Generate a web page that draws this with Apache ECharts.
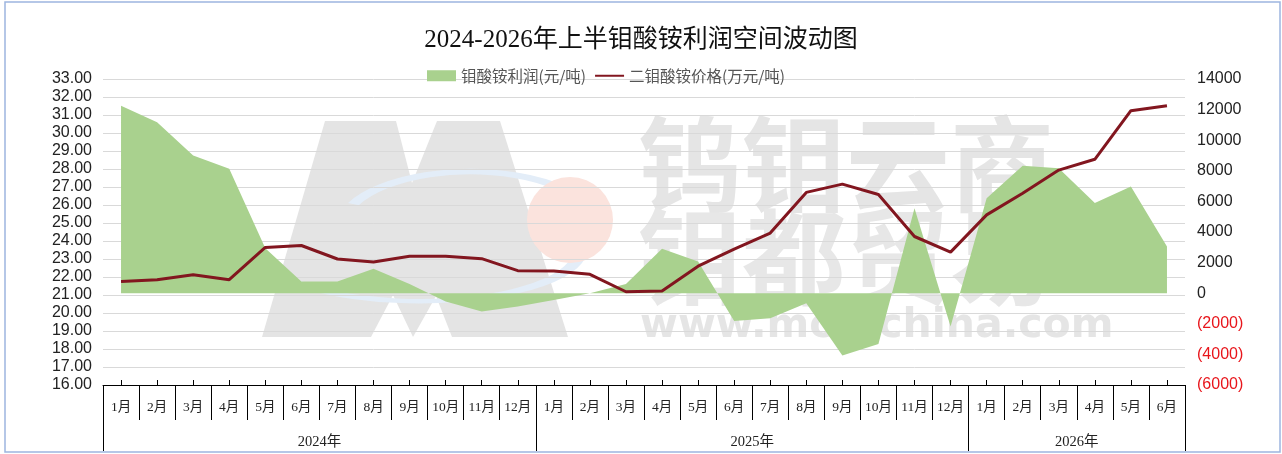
<!DOCTYPE html>
<html>
<head>
<meta charset="utf-8">
<script src="https://cdn.jsdelivr.net/npm/echarts@6/dist/echarts.min.js"></script>
<style>
  html, body { margin: 0; padding: 0; background: #fff; }
  #chart { width: 1282px; height: 454px; }
</style>
</head>
<body>
<div id="chart"></div>
<script>
const title = "2024-2026年上半钼酸铵利润空间波动图";

const years = ["2024年", "2025年", "2026年"];
const monthsPerYear = [12, 12, 6];

const months = [
  "1月", "2月", "3月", "4月", "5月", "6月", "7月", "8月", "9月", "10月", "11月", "12月",
  "1月", "2月", "3月", "4月", "5月", "6月", "7月", "8月", "9月", "10月", "11月", "12月",
  "1月", "2月", "3月", "4月", "5月", "6月",
];

// 钼酸铵利润 (元/吨), right axis
const profit = [
  12250, 11180, 9000, 8130, 2940, 760, 760, 1590, 600, -550, -1200, -870,
  -440, 0, 600, 2900, 2070, -1810, -1640, -660, -4080, -3320, 5560, -2180,
  6210, 8330, 8170, 5890, 6970, 3050,
];

// 二钼酸铵价格 (万元/吨), left axis
const price = [
  21.75, 21.85, 22.13, 21.85, 23.64, 23.75, 23.0, 22.83, 23.15, 23.15, 23.02, 22.35,
  22.33, 22.15, 21.18, 21.22, 22.6, 23.55, 24.44, 26.7, 27.16, 26.58, 24.25, 23.38,
  25.45, 26.65, 27.94, 28.54, 31.24, 31.52,
];

// year group boundaries and label positions, in month units
const yearBounds = [0];
const yearMids = [];
monthsPerYear.forEach((n) => {
  const start = yearBounds[yearBounds.length - 1];
  yearMids.push(start + n / 2);
  yearBounds.push(start + n);
});

const serif = "'Liberation Serif', 'Noto Sans CJK SC', serif";
const sans = "'Liberation Sans', Arial, sans-serif";
const cjk = "'Noto Sans CJK SC', sans-serif";

const chart = echarts.init(document.getElementById("chart"));

const watermark = [
  {
    type: "polygon",
    z: 0,
    silent: true,
    shape: {
      points: [[262, 337], [325, 121], [396, 121], [412, 183], [437, 121], [500, 121],
        [568, 337], [452, 337], [436, 296], [413, 337], [393, 295], [371, 337]],
    },
    style: { fill: "#e4e4e4" },
  },
  {
    type: "arc",
    z: 0,
    silent: true,
    shape: { cx: 420, cy: 250, r: 160, startAngle: 0.15, endAngle: 2.7 },
    scaleY: 0.32,
    originX: 420, originY: 250,
    style: { fill: null, stroke: "#e3edf8", lineWidth: 14 },
  },
  {
    type: "arc",
    z: 0,
    silent: true,
    shape: { cx: 470, cy: 230, r: 130, startAngle: 3.6, endAngle: 6.1 },
    scaleY: 0.45,
    originX: 470, originY: 230,
    style: { fill: null, stroke: "#e3edf8", lineWidth: 12 },
  },
  {
    type: "circle",
    z: 0,
    silent: true,
    shape: { cx: 570, cy: 220, r: 43 },
    style: { fill: "#fbe3dd" },
  },
  {
    type: "text",
    z: 0,
    silent: true,
    left: 638, top: 112,
    style: { text: "钨钼云商", font: "bold 104px 'Noto Sans CJK SC'", fill: "#e5e5e5" },
  },
  {
    type: "text",
    z: 0,
    silent: true,
    left: 638, top: 205,
    style: { text: "钼都贸易", font: "bold 104px 'Noto Sans CJK SC'", fill: "#e7e7e7" },
  },
  {
    type: "text",
    z: 0,
    silent: true,
    left: 640, top: 306,
    style: { text: "www.molychina.com", font: "bold 41px 'DejaVu Sans'", fill: "#e5e5e5" },
  },
  {
    type: "rect",
    z: 0,
    silent: true,
    shape: { x: 5, y: 2, width: 1275, height: 450 },
    style: { fill: null, stroke: "#9db5e0", lineWidth: 1.5 },
  },
];

chart.setOption({
  animation: false,
  backgroundColor: "#fff",
  title: {
    text: title,
    left: "center",
    top: 23,
    textStyle: { fontFamily: serif, fontSize: 25, fontWeight: "normal", color: "#111" },
  },
  legend: {
    left: 422,
    top: 63,
    itemWidth: 29,
    itemHeight: 11,
    itemGap: 8,
    textStyle: { fontFamily: cjk, fontSize: 15.5, color: "#555" },
    data: [
      { name: "钼酸铵利润(元/吨)", icon: "rect" },
      { name: "二钼酸铵价格(万元/吨)", itemStyle: { opacity: 0 } },
    ],
  },
  graphic: watermark,
  grid: { left: 103, right: 97, top: 79, bottom: 69 },
  xAxis: [
    {
      type: "category",
      position: "bottom",
      data: months,
      boundaryGap: true,
      axisLine: { onZero: false, lineStyle: { color: "#000", width: 1 } },
      axisTick: { show: true, interval: 0, length: 35, lineStyle: { color: "#000" } },
      axisLabel: { interval: 0, margin: 16, fontFamily: serif, fontSize: 13.5, color: "#222" },
      splitLine: { show: false },
    },
    {
      type: "category",
      position: "bottom",
      data: months,
      boundaryGap: true,
      axisLine: { show: false, onZero: false },
      axisTick: { show: true, interval: 0, alignWithLabel: true, inside: true, length: 5, lineStyle: { color: "#000" } },
      axisLabel: { show: false },
      splitLine: { show: false },
    },
    {
      type: "value",
      position: "bottom",
      min: 0,
      max: months.length,
      axisLine: { show: false, onZero: false },
      axisTick: { show: true, length: 66, customValues: yearBounds, lineStyle: { color: "#000" } },
      axisLabel: {
        show: true,
        customValues: yearMids,
        margin: 50,
        fontFamily: serif,
        fontSize: 14.5,
        color: "#222",
        formatter: (v) => years[yearMids.indexOf(v)],
      },
      splitLine: { show: false },
    },
  ],
  yAxis: [
    {
      type: "value",
      min: 16,
      max: 33,
      interval: 1,
      axisLine: { show: false },
      axisTick: { show: false },
      axisLabel: { margin: 11, fontFamily: sans, fontSize: 16, color: "#222", formatter: (v) => v.toFixed(2) },
      splitLine: { lineStyle: { color: "#d9d9d9", width: 1 } },
    },
    {
      type: "value",
      min: -6000,
      max: 14000,
      interval: 2000,
      axisLine: { show: false },
      axisTick: { show: false },
      axisLabel: {
        margin: 12,
        fontFamily: sans,
        fontSize: 16,
        formatter: (v) => (v < 0 ? "{neg|(" + Math.abs(v) + ")}" : String(v)),
        color: "#222",
        rich: { neg: { color: "#e8151b", fontFamily: sans, fontSize: 16 } },
      },
      splitLine: { show: false },
    },
  ],
  series: [
    {
      name: "钼酸铵利润(元/吨)",
      type: "line",
      xAxisIndex: 0,
      yAxisIndex: 1,
      data: profit,
      showSymbol: false,
      symbol: "none",
      lineStyle: { width: 0, color: "#a9d18e" },
      itemStyle: { color: "#a9d18e" },
      areaStyle: { color: "#a9d18e", opacity: 1 },
      z: 2,
    },
    {
      name: "二钼酸铵价格(万元/吨)",
      type: "line",
      xAxisIndex: 0,
      yAxisIndex: 0,
      data: price,
      showSymbol: false,
      symbol: "none",
      lineStyle: { width: 3, color: "#82161f" },
      itemStyle: { color: "#82161f" },
      z: 3,
    },
  ],
});
</script>
</body>
</html>
